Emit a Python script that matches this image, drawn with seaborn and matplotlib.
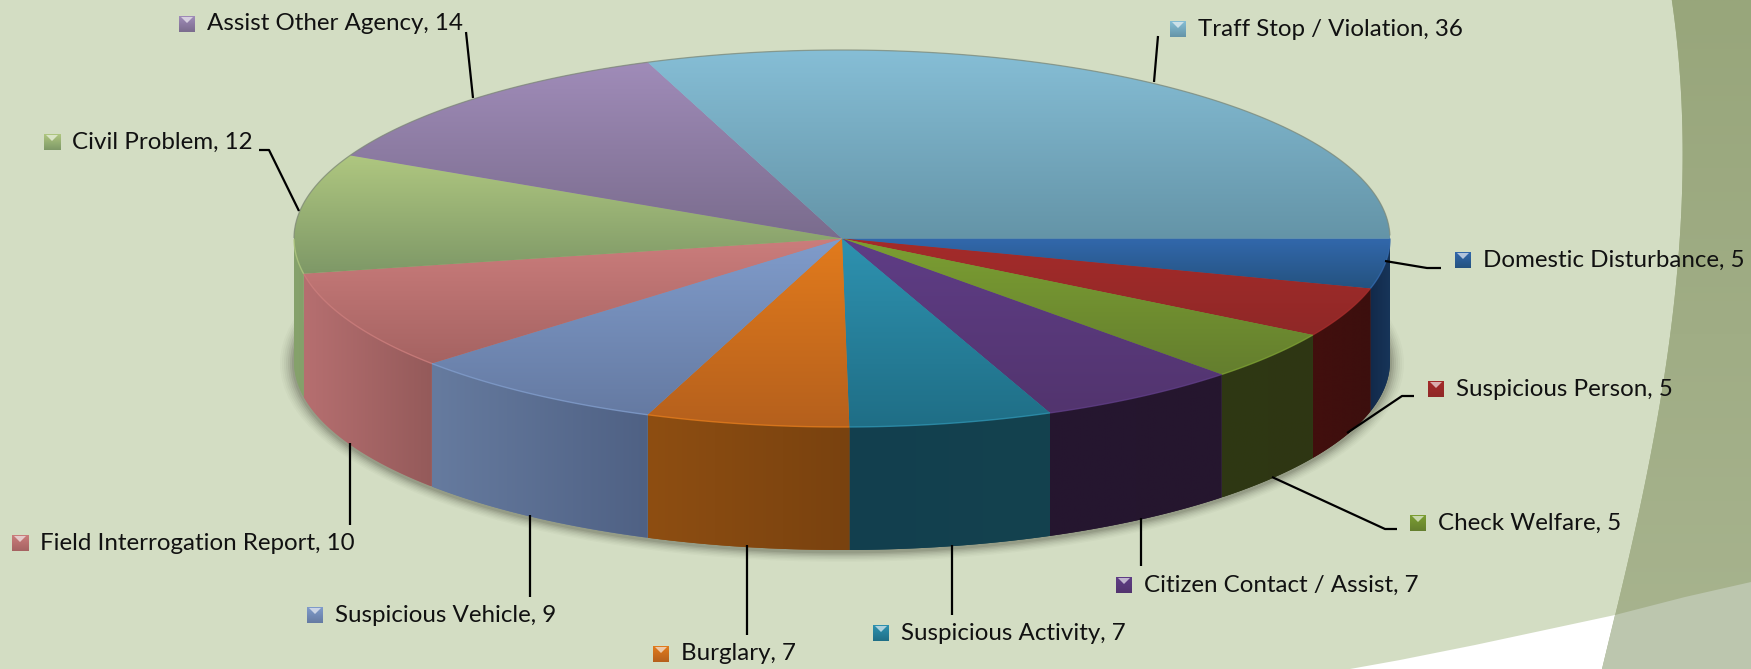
import numpy as np
import matplotlib
matplotlib.use("Agg")
import matplotlib.pyplot as plt
from matplotlib.patches import Polygon, Ellipse, Rectangle
import seaborn as sns

# Calls for service by type
categories = ["Domestic Disturbance", "Suspicious Person", "Check Welfare",
              "Citizen Contact / Assist", "Suspicious Activity", "Burglary",
              "Suspicious Vehicle", "Field Interrogation Report", "Civil Problem",
              "Assist Other Agency", "Traff Stop / Violation"]
counts = [5, 5, 5, 7, 7, 7, 9, 10, 12, 14, 36]

# colours of the top face (upper, lower) and of the side wall (left, right)
top_light = ["#3268AC", "#A52B2A", "#7C9F32", "#5F3D86", "#2E92B0", "#E27B1C",
             "#809CCB", "#CB7D7C", "#AFC780", "#A08CB9", "#86BED6"]
top_dark = ["#24527F", "#8F2827", "#647E2E", "#52346E", "#1F6E86", "#B5601D",
            "#657AA2", "#A56362", "#7E9867", "#7A6C8D", "#6494A7"]
wall_left = ["#12294A", "#420F0E", "#2F3813", "#261630", "#123F4E", "#8E4E12",
             "#667B9F", "#B66F70", "#86A26C", "#7A6C8D", "#6494A7"]
wall_right = ["#173559", "#3C0F0D", "#2E3613", "#25162E", "#14424F", "#79420F",
              "#4F6184", "#945A5A", "#84A06A", "#7A6C8D", "#6494A7"]

# label layout: text x, text y, leader line
label_pos = [
    (1483, 260, [(1385, 261), (1427, 268), (1441, 268)]),
    (1456, 389, [(1347, 433), (1402, 396), (1414, 396)]),
    (1438, 523, [(1272, 477), (1385, 529), (1397, 529)]),
    (1144, 585, [(1141, 518), (1141, 566)]),
    (901, 633, [(952, 545), (952, 615)]),
    (681, 654, [(747, 545), (747, 635)]),
    (335, 615, [(530, 515), (530, 597)]),
    (40, 543, [(350, 443), (350, 525)]),
    (72, 142, [(259, 150), (269, 150), (299, 211)]),
    (207, 24, [(466, 32), (473, 98)]),
    (1198, 29, [(1158, 36), (1154, 82)]),
]

W, H = 1751, 669
CX, CY, RX, RY, DEPTH = 842, 238.5, 548, 188.5, 123

sns.set_theme(style="white")
plt.rcParams["font.family"] = ["Lato", "DejaVu Sans"]

fig = plt.figure(figsize=(W / 100, H / 100), dpi=100)


def pixel_axes(z):
    a = fig.add_axes([0, 0, 1, 1], zorder=z)
    a.set_xlim(0, W)
    a.set_ylim(H, 0)
    a.axis("off")
    return a


def gradient(ax, c1, c2, extent, clip, vertical=True, z=3):
    cmap = sns.blend_palette([c1, c2], as_cmap=True)
    g = np.linspace(0, 1, 256)
    g = g.reshape(-1, 1) if vertical else g.reshape(1, -1)
    im = ax.imshow(g, cmap=cmap, extent=extent, aspect="auto", origin="upper",
                   zorder=z, interpolation="bilinear")
    im.set_clip_path(clip)


# background
ax_bg = pixel_axes(0)
ax_bg.add_patch(Rectangle((0, 0), W, H, fc="#D3DDC3", ec="none", zorder=0))
edge_y = np.array([0, 140, 300, 520, 615, 669])
edge_x = np.array([1672, 1682, 1675, 1637, 1615, 1602])
fit = np.polyfit(edge_y, edge_x, 3)
yy = np.linspace(0, H, 80)
band = Polygon(list(zip(np.polyval(fit, yy), yy)) + [(W, H), (W, 0)], fc="#A0AD84", ec="none", zorder=1)
ax_bg.add_patch(band)
gradient(ax_bg, "#98A67B", "#A8B48F", (1590, W, H, 0), band, z=1)
ax_bg.add_patch(Polygon([(1350, 669), (1400, 660), (1475, 645), (1615, 615), (1602, 669)],
                        fc="white", ec="none", zorder=2))
ax_bg.add_patch(Polygon([(1615, 615), (1685, 597), (1751, 582), (1751, 669), (1602, 669)],
                        fc="#BCC6AE", ec="none", zorder=2))
# soft shadow under the pie
for grow, alpha in zip(range(14, 0, -2), [0.03, 0.04, 0.05, 0.06, 0.08, 0.1, 0.12]):
    ax_bg.add_patch(Ellipse((CX, CY + DEPTH + 2), 2 * (RX + grow), 2 * (RY + grow * 0.7),
                            fc="#3a3f30", ec="none", alpha=alpha, zorder=3))

# pie in unit coordinates, y pointing down so the slices run clockwise
ax = fig.add_axes([0, 0, 1, 1], zorder=1)
ax.patch.set_alpha(0)
wedges, _ = ax.pie(counts, startangle=0, counterclock=True, radius=1, center=(0, 0),
                   colors=sns.color_palette(top_light),
                   wedgeprops={"linewidth": 0, "zorder": 1})
depth = DEPTH / RY

for i, w in enumerate(wedges):
    th = np.radians(np.linspace(w.theta1, w.theta2, 120))

    # side wall, only the part of the rim that faces the viewer
    front = th[(th >= 0) & (th <= np.pi)]
    if len(front) > 1:
        xs, ys = np.cos(front), np.sin(front)
        pts = list(zip(xs, ys)) + list(zip(xs[::-1], ys[::-1] + depth))
        wall = Polygon(pts, fc=wall_left[i], ec="none", zorder=2)
        ax.add_patch(wall)
        gradient(ax, wall_left[i], wall_right[i],
                 (xs.min(), xs.max(), ys.max() + depth, ys.min()), wall, vertical=False, z=2)

    # top face with its vertical shading
    all_x = np.append(np.cos(th), 0)
    all_y = np.append(np.sin(th), 0)
    gradient(ax, top_light[i], top_dark[i],
             (all_x.min(), all_x.max(), all_y.max(), all_y.min()), w)

    # thin rim on the top edge
    for part, col, a, lw in ((th[np.sin(th) >= 0], top_light[i], 0.8, 1.0),
                             (th[np.sin(th) < 0], "#7f8a78", 0.75, 0.9)):
        if len(part) > 1:
            ax.plot(np.cos(part), np.sin(part), color=col, lw=lw, alpha=a, zorder=4,
                    solid_capstyle="butt")

ax.set_aspect("auto")
ax.set_xlim(-CX / RX, (W - CX) / RX)
ax.set_ylim((H - CY) / RY, -CY / RY)
ax.axis("off")

# labels, legend keys and leader lines
ax_lbl = pixel_axes(2)
for i, (tx, ty, line) in enumerate(label_pos):
    ax_lbl.text(tx, ty, f"{categories[i]}, {counts[i]}", fontsize=17.4, color="#111111",
                ha="left", va="center")
    lx, ly = zip(*line)
    ax_lbl.plot(lx, ly, color="black", lw=1.6, solid_capstyle="butt", solid_joinstyle="round")
    kx, ky = tx - 28, ty - 8
    key = Rectangle((kx, ky), 16, 16, fc=top_light[i], ec="none")
    ax_lbl.add_patch(key)
    gradient(ax_lbl, top_light[i], top_dark[i], (kx, kx + 16, ky + 16, ky), key)
    tip = sns.light_palette(top_light[i], 4)[1]
    ax_lbl.add_patch(Polygon([(kx + 2, ky + 1), (kx + 14, ky + 1), (kx + 8, ky + 7)], fc=tip, ec="none", zorder=4))
ax_bg.set_xlim(0, W)
ax_bg.set_ylim(H, 0)
ax_lbl.set_xlim(0, W)
ax_lbl.set_ylim(H, 0)

fig.savefig("out.png", dpi=100)
